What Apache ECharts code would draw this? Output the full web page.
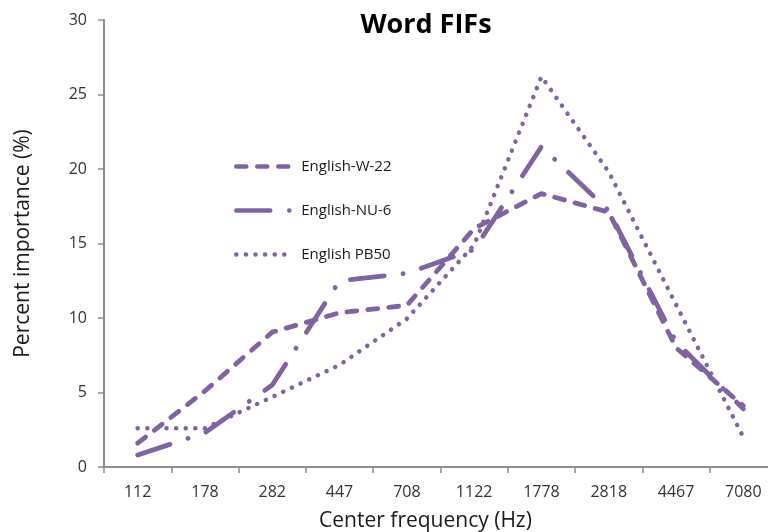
<!DOCTYPE html>
<html>
<head>
<meta charset="utf-8">
<script src="https://cdn.jsdelivr.net/npm/echarts@6/dist/echarts.min.js"></script>
<style>
  html, body { margin: 0; padding: 0; background: #ffffff; }
  #chart { width: 768px; height: 532px; }
</style>
</head>
<body>
<div id="chart"></div>
<script>
// Center frequencies of the bands (Hz)
const bands = ['112', '178', '282', '447', '708', '1122', '1778', '2818', '4467', '7080'];

// Frequency importance (%) per band for each word test
const englishW22 = [1.6, 5.1, 9.05, 10.35, 10.85, 16.0, 18.35, 17.1, 8.0, 4.1];
const englishNU6 = [0.8, 2.3, 5.5, 12.5, 13.0, 14.6, 21.5, 17.2, 8.4, 3.9];
const englishPB50 = [2.6, 2.6, 4.7, 6.85, 9.95, 14.9, 26.2, 19.8, 10.9, 2.0];

const yTicks = [0, 5, 10, 15, 20, 25, 30];

const purple = '#8064a2';
const font = '"Open Sans", "Liberation Sans", sans-serif';

function lineSeries(name, values, dash, width) {
  return {
    name: name,
    type: 'line',
    data: values,
    symbol: 'none',
    showSymbol: false,
    smooth: false,
    lineStyle: { color: purple, width: width, type: dash, cap: 'round', join: 'round' },
    itemStyle: { color: purple },
    emphasis: { disabled: true }
  };
}

const chart = echarts.init(document.getElementById('chart'), null, { renderer: 'canvas' });
chart.setOption({
  animation: false,
  backgroundColor: '#ffffff',
  title: {
    text: 'Word FIFs',
    left: 421,
    textAlign: 'center',
    top: 7,
    textStyle: { fontFamily: font, fontWeight: 'bold', fontSize: 27, color: '#000000' }
  },
  legend: {
    orient: 'vertical',
    left: 229,
    top: 154,
    itemWidth: 56,
    itemHeight: 10,
    itemGap: 29,
    selectedMode: false,
    itemStyle: { opacity: 0 },
    lineStyle: { width: 4.5, cap: 'round', inactiveWidth: 4.5 },
    textStyle: { fontFamily: font, fontSize: 15, color: '#1a1a1a', padding: [0, 0, 0, 4] },
    data: ['English-W-22', 'English-NU-6', 'English PB50']
  },
  grid: { left: 104, top: 20, width: 673, height: 447, containLabel: false, outerBoundsMode: 'none' },
  xAxis: {
    type: 'category',
    data: bands,
    boundaryGap: true,
    name: 'Center frequency (Hz)',
    nameLocation: 'middle',
    nameGap: 44,
    nameTextStyle: { fontFamily: font, fontSize: 21, color: '#1a1a1a', padding: [0, 0, 0, -30] },
    axisLine: { lineStyle: { color: '#8c8c8c', width: 2 } },
    axisTick: { show: true, alignWithLabel: false, length: 6, lineStyle: { color: '#8c8c8c', width: 1.5 } },
    axisLabel: { fontFamily: font, fontSize: 16, color: '#333333', margin: 17 },
    splitLine: { show: false }
  },
  yAxis: {
    type: 'value',
    min: yTicks[0],
    max: yTicks[yTicks.length - 1],
    interval: 5,
    name: 'Percent importance (%)',
    nameLocation: 'middle',
    nameGap: 70,
    nameTextStyle: { fontFamily: font, fontSize: 21, color: '#1a1a1a' },
    axisLine: { show: true, lineStyle: { color: '#8c8c8c', width: 2 } },
    axisTick: { show: true, length: 6, lineStyle: { color: '#8c8c8c', width: 1.5 } },
    axisLabel: { fontFamily: font, fontSize: 16, color: '#333333', margin: 17 },
    splitLine: { show: false }
  },
  series: [
    lineSeries('English-W-22', englishW22, [10, 11], 4.8),
    lineSeries('English-NU-6', englishNU6, [34, 19, 0.1, 19], 4.8),
    lineSeries('English PB50', englishPB50, [0.1, 9.5], 4.5)
  ]
});
</script>
</body>
</html>
